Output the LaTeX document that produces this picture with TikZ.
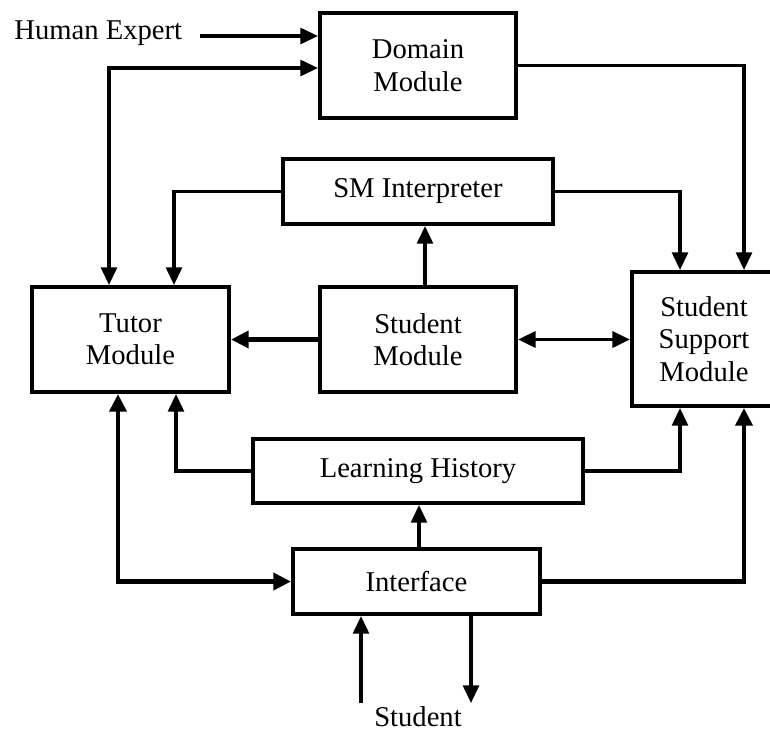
\documentclass[tikz,border=0pt]{standalone}
\usepackage{fontspec}
\setmainfont{Liberation Serif}
\usepackage{tikz}
\usetikzlibrary{arrows.meta,positioning,calc}

\begin{document}
\begin{tikzpicture}[x=0.02cm,y=-0.02cm,
    every node/.style={font=\fontsize{16.3}{18.5}\selectfont},
    modbox/.style={rectangle,draw,line width=2.3pt,align=center,inner sep=0pt},
    conn/.style={line width=1.8pt,-{Triangle[length=10pt,width=9pt]}},
    bigconn/.style={line width=2.7pt,-{Triangle[length=10pt,width=9.5pt]}}]
  \useasboundingbox (0,0) rectangle (770,731);
  % modules
  \node[modbox,minimum width=3.92cm,minimum height=2.1cm] (domain) at (418,65.5)
    {Domain\\Module};
  \node[modbox,minimum width=5.4cm,minimum height=1.3cm] (smi) at (418,191.5)
    {SM Interpreter};
  \node[modbox,minimum width=3.94cm,minimum height=2.1cm] (tutor) at (130.5,339.5)
    {Tutor\\Module};
  \node[modbox,minimum width=3.92cm,minimum height=2.1cm] (student) at (418,339.5)
    {Student\\Module};
  \node[modbox,minimum width=2.88cm,minimum height=2.68cm] (ssm) at (704,339)
    {Student\\Support\\Module};
  \node[modbox,minimum width=6.6cm,minimum height=1.28cm] (lh) at (418,471)
    {Learning History};
  \node[modbox,minimum width=4.94cm,minimum height=1.3cm] (iface) at (416.5,581.5)
    {Interface};
  % outside texts
  \node[anchor=base west,inner sep=0pt] (he) at (14,39) {Human Expert};
  \node[anchor=base,inner sep=0pt] (stu) at (418,726) {Student};
  % lanes
  \coordinate (heA) at (200,36);
  \coordinate (laneA) at (109,68);
  \coordinate (laneB) at (174,0);
  \coordinate (laneC) at (744,65);
  \coordinate (laneD) at (680,0);
  \coordinate (laneE) at (425,0);
  \coordinate (laneF) at (176,0);
  \coordinate (laneG) at (419,0);
  \coordinate (laneH) at (118,0);
  \coordinate (stuIn) at (361,703);
  \coordinate (stuOut) at (471,703);
  % connectors
  \draw[conn] (heA) -- (domain.west |- heA);
  \draw[conn,{Triangle[length=10pt,width=9pt]}-{Triangle[length=10pt,width=9pt]}]
    (tutor.north -| laneA) |- (domain.west |- laneA);
  \draw[conn] (smi.west) -| (tutor.north -| laneB);
  \draw[conn] (domain.east) -| (ssm.north -| laneC);
  \draw[conn] (smi.east) -| (ssm.north -| laneD);
  \draw[conn] (student.north -| laneE) -- (smi.south -| laneE);
  \draw[bigconn] (student.west) -- (tutor.east);
  \draw[conn,line width=2.2pt,{Triangle[length=10pt,width=9pt]}-{Triangle[length=10pt,width=9pt]}]
    (student.east) -- (ssm.west |- student.east);
  \draw[conn] (lh.west) -| (tutor.south -| laneF);
  \draw[conn] (lh.east) -| (ssm.south -| laneD);
  \draw[conn] (iface.north -| laneG) -- (lh.south -| laneG);
  \draw[bigconn,{Triangle[length=10pt,width=9.5pt]}-{Triangle[length=10pt,width=9.5pt]}]
    (tutor.south -| laneH) |- (iface.west);
  \draw[bigconn] (iface.east) -| (ssm.south -| laneC);
  \draw[conn] (stuIn) -- (iface.south -| stuIn);
  \draw[conn] (iface.south -| stuOut) -- (stuOut);
\end{tikzpicture}
\end{document}
